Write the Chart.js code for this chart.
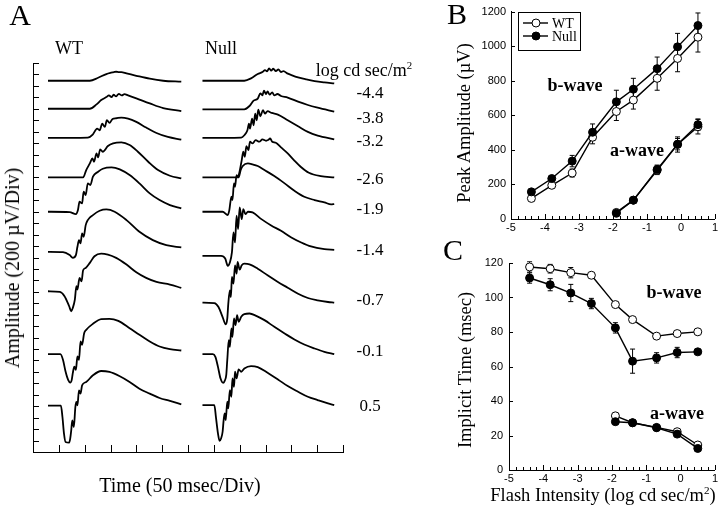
<!DOCTYPE html>
<html>
<head>
<meta charset="utf-8">
<script src="https://cdn.jsdelivr.net/npm/chart.js@4"></script>
<style>
  body { margin: 0; background: #fff; }
  #page { position: relative; width: 720px; height: 509px; overflow: hidden; font-family: "Liberation Serif", "Times New Roman", serif; color: #000; }
  canvas { position: absolute; }
  .t { position: absolute; transform: translate(-50%, -50%); white-space: nowrap; line-height: 1; }
  .rot { transform: translate(-50%, -50%) rotate(-90deg); }
  .bw { font-weight: bold; font-size: 18px; }
  .lbl { font-size: 17px; }
  sup { font-size: 60%; }
</style>
</head>
<body>
<div id="page">
  <canvas id="chartA" width="430" height="509" style="left:0;top:0"></canvas>
  <canvas id="chartB" width="290" height="250" style="left:430px;top:0"></canvas>
  <canvas id="chartC" width="290" height="259" style="left:430px;top:250px"></canvas>

  <div class="t" style="left:20px;top:15px;font-size:30px">A</div>
  <div class="t" style="left:69px;top:48px;font-size:18px">WT</div>
  <div class="t" style="left:221px;top:48px;font-size:18px">Null</div>
  <div class="t" style="left:364px;top:69px;font-size:18px">log cd sec/m<sup>2</sup></div>
  <div class="t rot" style="left:12px;top:268px;font-size:20px">Amplitude (200 µV/Div)</div>
  <div class="t" style="left:180px;top:485px;font-size:20px">Time (50 msec/Div)</div>

  <div class="t" style="left:457px;top:14px;font-size:30px">B</div>
  <div class="t rot" style="left:464px;top:123px;font-size:18.5px">Peak Amplitude (µV)</div>
  <div class="t bw" style="left:575px;top:85px">b-wave</div>
  <div class="t bw" style="left:637px;top:150px">a-wave</div>

  <div class="t" style="left:453px;top:250px;font-size:30px">C</div>
  <div class="t rot" style="left:465px;top:370px;font-size:18.5px">Implicit Time (msec)</div>
  <div class="t" style="left:603px;top:495px;font-size:18.5px">Flash Intensity (log cd sec/m<sup>2</sup>)</div>
  <div class="t bw" style="left:674px;top:292px">b-wave</div>
  <div class="t bw" style="left:677px;top:413px">a-wave</div>
</div>

<script>
// flash intensities (log cd sec/m2)
const intensityLabels = ['-4.4', '-3.8', '-3.2', '-2.6', '-1.9', '-1.4', '-0.7', '-0.1', '0.5'];
const intensity = [-4.4, -3.8, -3.2, -2.6, -1.9, -1.4, -0.7, -0.1, 0.5];
const aIntensity = [-1.9, -1.4, -0.7, -0.1, 0.5];

// panel A: ERG traces, time in ms from sweep start, amplitude in uV above baseline
const wtStart = 29;
const nullStart = 328;
const wtBase = [6490, 6000, 5490, 4800, 4200, 3500, 2810, 1710, 810];
const nullBase = [6490, 5990, 5490, 4800, 4200, 3430, 2610, 1710, 820];

const wtT = [
  [0, 81, 97, 113, 122, 128, 132, 137, 142, 152, 171, 197, 223, 258],
  [0, 81, 94, 103, 113, 118, 123, 127, 132, 137, 143, 148, 155, 171, 197, 223, 258],
  [0, 77, 87, 95, 100, 105, 110, 114, 119, 125, 132, 142, 155, 171, 190, 210, 232, 258],
  [0, 68, 74, 81, 86, 89, 94, 97, 101, 106, 116, 126, 142, 158, 174, 194, 213, 236, 258],
  [0, 42, 54, 58, 61, 66, 69, 73, 77, 82, 87, 97, 106, 123, 139, 158, 177, 197, 216, 236, 258],
  [0, 29, 42, 48, 54, 57, 60, 63, 66, 69, 73, 77, 87, 100, 113, 129, 152, 177, 203, 229, 258],
  [0, 23, 32, 41, 45, 48, 52, 55, 57, 61, 65, 68, 73, 81, 90, 103, 116, 132, 152, 171, 190, 210, 236, 258],
  [0, 24, 29, 34, 39, 43, 46, 48, 51, 54, 57, 60, 63, 66, 70, 74, 87, 103, 119, 136, 158, 177, 197, 216, 236, 258],
  [0, 25, 28, 31, 34, 41, 43, 45, 47, 50, 53, 55, 57, 60, 63, 66, 74, 87, 103, 119, 139, 158, 177, 197, 216, 236, 258]
];
const wtV = [
  [0, 0, 52, 117, 140, 152, 157, 150, 152, 128, 87, 35, 0, -17],
  [0, 0, 76, 152, 204, 233, 204, 245, 216, 262, 233, 256, 233, 181, 93, 12, -41],
  [0, 6, 64, 163, 134, 250, 192, 309, 262, 332, 344, 356, 338, 280, 181, 87, 17, -29],
  [0, 0, 128, 245, 332, 274, 420, 350, 490, 449, 548, 595, 612, 566, 449, 274, 128, 29, -17],
  [0, -6, -41, 29, 175, 146, 350, 292, 496, 466, 612, 700, 752, 776, 741, 641, 496, 321, 204, 117, 58],
  [0, -6, -58, -105, -58, 87, 204, 146, 321, 262, 466, 554, 641, 717, 740, 700, 554, 350, 204, 117, 76],
  [0, -12, -87, -262, -350, -292, -146, 87, 29, 233, 175, 367, 408, 496, 612, 659, 641, 583, 466, 332, 233, 163, 117, 58],
  [0, 0, -99, -303, -449, -496, -449, -332, -216, -274, -41, -99, 222, 163, 367, 425, 531, 612, 618, 583, 455, 338, 222, 134, 87, 64],
  [0, 0, -198, -490, -636, -647, -577, -431, -257, -373, -23, 64, 6, 268, 210, 356, 414, 531, 606, 589, 513, 414, 297, 210, 134, 82, 23]
];
const nullT = [
  [0, 81, 94, 107, 117, 121, 125, 129, 133, 137, 142, 147, 152, 157, 164, 172, 185, 201, 217, 236, 255],
  [0, 81, 91, 99, 107, 112, 116, 119, 123, 126, 130, 135, 139, 145, 152, 165, 185, 204, 223, 255],
  [0, 75, 81, 87, 90, 92, 96, 99, 102, 105, 108, 112, 117, 121, 126, 134, 146, 165, 185, 204, 223, 255],
  [0, 68, 71, 76, 79, 82, 85, 89, 92, 97, 103, 110, 116, 123, 127, 131, 135, 142, 152, 165, 177, 190, 206, 229, 255],
  [0, 39, 49, 52, 56, 58, 61, 63, 66, 70, 74, 78, 88, 97, 107, 120, 139, 159, 178, 197, 217, 236, 249, 255],
  [0, 36, 44, 49, 53, 57, 60, 63, 66, 69, 72, 76, 79, 83, 88, 97, 114, 133, 152, 172, 191, 210, 236, 255],
  [0, 23, 31, 39, 45, 48, 50, 53, 55, 57, 60, 63, 66, 68, 72, 76, 81, 91, 107, 126, 146, 165, 185, 204, 223, 243, 255],
  [0, 20, 25, 30, 35, 40, 43, 46, 48, 51, 53, 56, 58, 61, 64, 67, 70, 75, 81, 91, 104, 120, 139, 159, 178, 197, 217, 236, 255],
  [0, 23, 26, 30, 33, 36, 39, 41, 43, 45, 48, 50, 53, 56, 58, 61, 63, 66, 70, 75, 81, 94, 107, 126, 146, 165, 185, 204, 223, 243, 255]
];
const nullV = [
  [0, 0, 41, 117, 157, 187, 163, 216, 175, 210, 169, 198, 152, 169, 128, 99, 58, 23, -6, -29, -47],
  [0, 0, 58, 152, 187, 280, 245, 326, 268, 315, 257, 297, 245, 268, 233, 204, 134, 76, 29, -41],
  [0, 6, 47, 134, 251, 163, 338, 222, 426, 309, 496, 379, 484, 426, 467, 437, 408, 309, 204, 105, 41, -23],
  [0, 0, 70, 303, 449, 361, 548, 478, 624, 595, 653, 624, 665, 641, 653, 682, 624, 606, 525, 420, 303, 187, 82, 23, 0],
  [0, 0, -58, 29, 262, 204, 496, 437, 641, 601, 729, 799, 845, 828, 799, 729, 624, 496, 367, 262, 204, 163, 128, 134],
  [0, 0, -47, -175, -117, 58, 408, 233, 700, 466, 845, 641, 816, 729, 770, 758, 641, 531, 437, 321, 233, 163, 117, 105],
  [0, -6, -76, -251, -379, -280, -17, 216, 99, 449, 332, 653, 507, 711, 577, 653, 682, 671, 595, 478, 362, 262, 157, 82, 41, 12, 0],
  [0, 0, -47, -222, -426, -501, -466, -367, -105, 245, 128, 449, 303, 624, 507, 682, 566, 653, 700, 711, 670, 595, 478, 362, 257, 169, 99, 41, 0],
  [0, 0, -204, -496, -624, -583, -466, -262, -146, -262, 58, -58, 262, 146, 466, 321, 583, 466, 624, 583, 641, 682, 665, 566, 449, 332, 233, 146, 87, 29, 0]
];

// panel B: peak amplitude (uV) and SEM
const bAmpWT = [119, 195, 266, 473, 622, 688, 814, 929, 1052];
const bAmpWTErr = [10, 15, 23, 38, 52, 52, 69, 77, 86];
const bAmpNull = [157, 234, 335, 502, 678, 751, 870, 996, 1119];
const bAmpNullErr = [10, 15, 33, 48, 67, 63, 67, 78, 73];
const aAmpWT = [38, 109, 282, 431, 534];
const aAmpWTErr = [10, 10, 25, 44, 42];
const aAmpNull = [33, 109, 287, 433, 546];
const aAmpNullErr = [10, 10, 25, 33, 33];

// panel C: implicit time (msec) and SEM
const bTimeWT = [117.7, 116.7, 114.4, 112.9, 95.9, 87.2, 77.6, 79.1, 80.1];
const bTimeWTErr = [3, 2.5, 3, 1.5, 1, 1, 1, 1, 1];
const bTimeNull = [111.3, 107.4, 102.6, 96.5, 82.4, 63.1, 65, 68.1, 68.5];
const bTimeNullErr = [3, 3.5, 5, 3, 3, 7, 3, 3, 1];
const aTimeWT = [31.4, 27.4, 24.7, 22.2, 14.5];
const aTimeNull = [28, 27.4, 24.5, 20.8, 12.5];
const aTimeErr = [1, 1, 1, 1, 1];

// label positions next to the traces
const labelY = [92, 117, 140, 178, 208, 249, 299, 350, 405];
intensityLabels.forEach((txt, i) => {
  const d = document.createElement('div');
  d.className = 't lbl';
  d.style.left = '370px';
  d.style.top = labelY[i] + 'px';
  d.textContent = txt;
  document.getElementById('page').appendChild(d);
});

// ticks pointing into the plot
const innerTicks = {
  id: 'innerTicks',
  afterDraw(chart, args, opts) {
    const { ctx, chartArea: a, scales: { x, y } } = chart;
    ctx.save();
    ctx.strokeStyle = '#000';
    ctx.lineWidth = 1;
    ctx.beginPath();
    (opts.x || []).forEach(t => {
      const n = Math.round((x.max - x.min) / t.step);
      for (let i = 0; i <= n; i++) {
        const px = Math.round(x.getPixelForValue(x.min + i * t.step)) + 0.5;
        ctx.moveTo(px, a.bottom);
        ctx.lineTo(px, a.bottom - t.len);
      }
    });
    (opts.y || []).forEach(t => {
      const n = Math.round((y.max - y.min) / t.step);
      for (let i = 0; i <= n; i++) {
        const py = Math.round(y.getPixelForValue(y.min + i * t.step)) + 0.5;
        ctx.moveTo(a.left, py);
        ctx.lineTo(a.left + t.len, py);
      }
    });
    ctx.stroke();
    ctx.restore();
  }
};

// vertical SEM bars with caps
const errorBars = {
  id: 'errorBars',
  beforeDatasetsDraw(chart) {
    const { ctx, scales: { x, y } } = chart;
    ctx.save();
    ctx.strokeStyle = '#000';
    ctx.lineWidth = 1;
    chart.data.datasets.forEach(ds => {
      if (!ds.errors) return;
      ds.data.forEach((p, i) => {
        const e = ds.errors[i];
        if (!e) return;
        const px = x.getPixelForValue(p.x);
        const top = y.getPixelForValue(p.y + e);
        const bot = y.getPixelForValue(p.y - e);
        ctx.beginPath();
        ctx.moveTo(px, top); ctx.lineTo(px, bot);
        ctx.moveTo(px - 2.5, top); ctx.lineTo(px + 2.5, top);
        ctx.moveTo(px - 2.5, bot); ctx.lineTo(px + 2.5, bot);
        ctx.stroke();
      });
    });
    ctx.restore();
  }
};

// boxed legend for panel B
const legendBox = {
  id: 'legendBox',
  afterDraw(chart, args, opts) {
    if (!opts.rows) return;
    const ctx = chart.ctx;
    ctx.save();
    ctx.strokeStyle = '#000';
    ctx.lineWidth = 1;
    ctx.strokeRect(opts.x + 0.5, opts.y + 0.5, opts.w, opts.h);
    ctx.font = '14px "Liberation Serif"';
    ctx.textBaseline = 'middle';
    ctx.fillStyle = '#000';
    opts.rows.forEach(r => {
      const ds = chart.data.datasets[r.ds];
      const cy = opts.y + r.dy;
      ctx.beginPath();
      ctx.moveTo(opts.x + 5, cy);
      ctx.lineTo(opts.x + 30, cy);
      ctx.lineWidth = 1.4;
      ctx.stroke();
      ctx.beginPath();
      ctx.arc(opts.x + 18, cy, 4, 0, Math.PI * 2);
      ctx.fillStyle = ds.pointBackgroundColor;
      ctx.fill();
      ctx.lineWidth = 1;
      ctx.stroke();
      ctx.fillStyle = '#000';
      ctx.fillText(ds.label, opts.x + 34, cy + 1);
    });
    ctx.restore();
  }
};

function trace(start, base, ts, vs) {
  return {
    data: ts.map((t, i) => ({ x: start + t, y: base + vs[i] })),
    borderColor: '#000',
    borderWidth: 1.8,
    pointRadius: 0,
    cubicInterpolationMode: 'monotone',
    fill: false
  };
}

function series(label, xs, ys, errs, filled) {
  return {
    label: label,
    data: xs.map((x, i) => ({ x: x, y: ys[i] })),
    errors: errs,
    borderColor: '#000',
    borderWidth: 1.4,
    pointRadius: 4,
    pointHoverRadius: 4,
    pointBackgroundColor: filled ? '#000' : '#fff',
    pointBorderColor: '#000',
    pointBorderWidth: 1,
    tension: 0,
    fill: false
  };
}

const tickFont = { family: '"Liberation Sans"', size: 11 };

function axisOpts(min, max, step, pad, fitFn) {
  return {
    type: 'linear', min: min, max: max,
    ticks: { stepSize: step, font: tickFont, color: '#000', padding: pad, maxRotation: 0,
             callback: v => String(v) },
    grid: { display: false, drawTicks: false },
    border: { color: '#000', width: 1 },
    afterFit: fitFn
  };
}

// panel A
const aSets = [];
for (let i = 0; i < wtBase.length; i++) {
  aSets.push(trace(wtStart, wtBase[i], wtT[i], wtV[i]));
  aSets.push(trace(nullStart, nullBase[i], nullT[i], nullV[i]));
}
new Chart(document.getElementById('chartA'), {
  type: 'line',
  data: { datasets: aSets },
  plugins: [innerTicks],
  options: {
    responsive: false, animation: false, events: [],
    layout: { padding: { left: 33, top: 63, right: 87, bottom: 57 } },
    plugins: {
      legend: { display: false }, tooltip: { enabled: false },
      innerTicks: { x: [{ step: 50, len: 7 }], y: [{ step: 200, len: 6 }] }
    },
    scales: {
      x: { type: 'linear', min: 0, max: 600, ticks: { display: false }, grid: { display: false, drawTicks: false },
           border: { color: '#000', width: 1 }, afterFit: s => { s.height = 0; } },
      y: { type: 'linear', min: 0, max: 6800, ticks: { display: false }, grid: { display: false, drawTicks: false },
           border: { color: '#000', width: 1 }, afterFit: s => { s.width = 0; } }
    }
  }
});

// panel B
new Chart(document.getElementById('chartB'), {
  type: 'line',
  data: {
    datasets: [
      series('Null', intensity, bAmpNull, bAmpNullErr, true),
      series('WT', intensity, bAmpWT, bAmpWTErr, false),
      series('Null', aIntensity, aAmpNull, aAmpNullErr, true),
      series('WT', aIntensity, aAmpWT, aAmpWTErr, false)
    ]
  },
  plugins: [innerTicks, errorBars, legendBox],
  options: {
    responsive: false, animation: false, events: [],
    layout: { padding: { left: 0, top: 10, right: 4, bottom: 0 } },
    plugins: {
      legend: { display: false }, tooltip: { enabled: false },
      innerTicks: { x: [{ step: 1, len: 5 }, { step: 0.2, len: 3 }], y: [{ step: 200, len: 4 }] },
      legendBox: { x: 88, y: 12, w: 62, h: 38, rows: [{ ds: 1, dy: 11 }, { ds: 0, dy: 24 }] }
    },
    scales: {
      x: axisOpts(-5, 1, 1, 2, s => { s.height = 31; }),
      y: axisOpts(0, 1200, 200, 5, s => { s.width = 81; })
    }
  }
});

// panel C
new Chart(document.getElementById('chartC'), {
  type: 'line',
  data: {
    datasets: [
      series('Null', intensity, bTimeNull, bTimeNullErr, true),
      series('WT', intensity, bTimeWT, bTimeWTErr, false),
      series('Null', aIntensity, aTimeNull, aTimeErr, true),
      series('WT', aIntensity, aTimeWT, aTimeErr, false)
    ]
  },
  plugins: [innerTicks, errorBars],
  options: {
    responsive: false, animation: false, events: [],
    layout: { padding: { left: 0, top: 13, right: 4, bottom: 0 } },
    plugins: {
      legend: { display: false }, tooltip: { enabled: false },
      innerTicks: { x: [{ step: 1, len: 5 }, { step: 0.2, len: 3 }], y: [{ step: 20, len: 4 }] }
    },
    scales: {
      x: axisOpts(-5, 1, 1, 2, s => { s.height = 39; }),
      y: axisOpts(0, 120, 20, 6, s => { s.width = 79; })
    }
  }
});
</script>
</body>
</html>
